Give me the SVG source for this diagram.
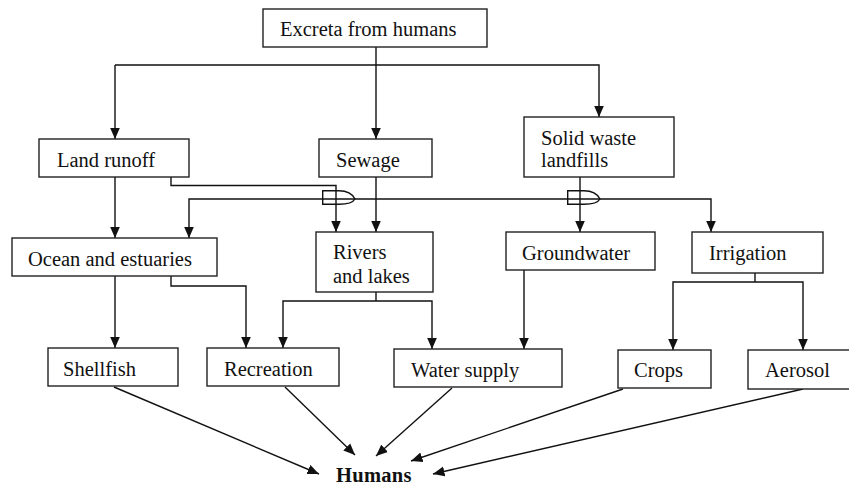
<svg xmlns="http://www.w3.org/2000/svg" width="849" height="486" viewBox="0 0 849 486">
  <style>
    .box { fill: #fff; stroke: #222; stroke-width: 1.4; }
    .lbl { font-family: "Liberation Serif", "Times New Roman", serif; font-size: 20.5px; fill: #111; }
    .bold { font-weight: bold; }
    .wire { fill: none; stroke: #111; stroke-width: 1.4; }
    .arr { marker-end: url(#head); }
  </style>
  <defs>
    <marker id="head" markerUnits="userSpaceOnUse" markerWidth="12" markerHeight="11" refX="11.5" refY="5.5" orient="auto">
      <path d="M0,0.5 L11.5,5.5 L0,10.5 Z" fill="#111"/>
    </marker>
  </defs>

  <!-- connectors -->
  <g id="connectors">
    <!-- excreta splits into land runoff, sewage, landfills -->
    <path class="wire arr" d="M376,47 V139"/>
    <path class="wire arr" d="M115,65 V139"/>
    <path class="wire arr" d="M115,65 H599 V117"/>
    <!-- land runoff -->
    <path class="wire arr" d="M115,177 V238"/>
    <path class="wire arr" d="M171,177 V185.5 H336 V232"/>
    <!-- sewage -->
    <path class="wire arr" d="M376,177 V232"/>
    <path class="wire arr" d="M376,199 H189 V238"/>
    <path class="wire arr" d="M376,199 H711 V232"/>
    <!-- line jumps where verticals cross the sewage line -->
    <path class="wire" d="M322.7,190.7 H339 C348,190.7 353,195 355,199 C353,202.5 348,204.2 339,204.2 H322.7 Z"/>
    <path class="wire" d="M567.7,190.7 H584 C593,190.7 598,195 600,199 C598,202.5 593,204.2 584,204.2 H567.7 Z"/>
    <!-- landfills to groundwater -->
    <path class="wire arr" d="M580,177 V232"/>
    <!-- ocean -->
    <path class="wire arr" d="M115,276 V348"/>
    <path class="wire arr" d="M171,276 V286 H246 V348"/>
    <!-- rivers -->
    <path class="wire" d="M376,292 V301"/>
    <path class="wire arr" d="M376,301 H283 V348"/>
    <path class="wire arr" d="M376,301 H432 V349"/>
    <!-- groundwater -->
    <path class="wire arr" d="M524,270 V349"/>
    <!-- irrigation -->
    <path class="wire" d="M755,273 V282"/>
    <path class="wire arr" d="M755,282 H673 V350"/>
    <path class="wire arr" d="M755,282 H803 V350"/>
    <!-- everything reaches humans -->
    <path class="wire arr" d="M114,387 L319,474"/>
    <path class="wire arr" d="M285,387 L355,455"/>
    <path class="wire arr" d="M452,388 L376,456"/>
    <path class="wire arr" d="M623,389 L411,461"/>
    <path class="wire arr" d="M803,389 L433,474"/>
  </g>

  <g id="excreta">
    <rect class="box" x="263" y="9" width="224" height="38"/>
    <text class="lbl" x="280" y="36">Excreta from humans</text>
  </g>
  <g id="land-runoff">
    <rect class="box" x="39" y="139" width="150" height="38"/>
    <text class="lbl" x="57" y="167">Land runoff</text>
  </g>
  <g id="sewage">
    <rect class="box" x="319" y="139" width="113" height="38"/>
    <text class="lbl" x="336" y="167">Sewage</text>
  </g>
  <g id="landfills">
    <rect class="box" x="524" y="117" width="150" height="60"/>
    <text class="lbl" x="541" y="145">Solid waste</text>
    <text class="lbl" x="541" y="167">landfills</text>
  </g>
  <g id="ocean">
    <rect class="box" x="12" y="238" width="205" height="38"/>
    <text class="lbl" x="28" y="266">Ocean and estuaries</text>
  </g>
  <g id="rivers">
    <rect class="box" x="316" y="232" width="117" height="60"/>
    <text class="lbl" x="333" y="259">Rivers</text>
    <text class="lbl" x="333" y="283">and lakes</text>
  </g>
  <g id="groundwater">
    <rect class="box" x="506" y="232" width="149" height="38"/>
    <text class="lbl" x="522" y="260">Groundwater</text>
  </g>
  <g id="irrigation">
    <rect class="box" x="692" y="232" width="131" height="41"/>
    <text class="lbl" x="709" y="260">Irrigation</text>
  </g>
  <g id="shellfish">
    <rect class="box" x="48" y="348" width="130" height="38"/>
    <text class="lbl" x="63" y="376">Shellfish</text>
  </g>
  <g id="recreation">
    <rect class="box" x="207" y="348" width="132" height="38"/>
    <text class="lbl" x="224" y="376">Recreation</text>
  </g>
  <g id="water-supply">
    <rect class="box" x="394" y="349" width="168" height="38"/>
    <text class="lbl" x="411" y="377">Water supply</text>
  </g>
  <g id="crops">
    <rect class="box" x="618" y="350" width="93" height="38"/>
    <text class="lbl" x="634" y="377">Crops</text>
  </g>
  <g id="aerosol">
    <rect class="box" x="748" y="350" width="104" height="39"/>
    <text class="lbl" x="765" y="377">Aerosol</text>
  </g>
  <g id="humans">
    <text class="lbl bold" x="336" y="482" letter-spacing="0.3">Humans</text>
  </g>
</svg>
